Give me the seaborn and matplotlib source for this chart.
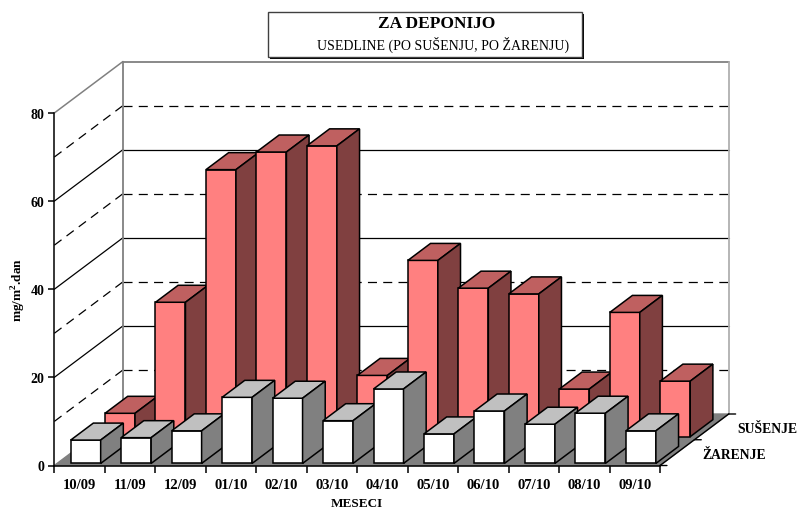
#!/usr/bin/env python
# coding: utf-8

import matplotlib
matplotlib.use("Agg")
import matplotlib.pyplot as plt
from matplotlib.patches import Polygon, Rectangle
import seaborn as sns

meseci = ["10/09", "11/09", "12/09", "01/10", "02/10", "03/10",
          "04/10", "05/10", "06/10", "07/10", "08/10", "09/10"]
susenje = [5.3, 30.5, 60.6, 64.6, 66.0, 13.9, 40.0, 33.7, 32.4, 10.8, 28.2, 12.6]
zarenje = [5.3, 5.85, 7.4, 15.0, 14.8, 9.7, 16.9, 6.7, 11.9, 8.9, 11.4, 7.4]
serije = ["ŽARENJE", "SUŠENJE"]
y_ticks = [0, 20, 40, 60, 80]

W, H = 798, 510

# Kosa projekcija: pomak zadnje ravnine u jedinicama osi
DX = 68.7 / 50.5
DY = 51.5 / (352.5 / 80)
BAR_DEPTH = 0.33
GRID = "#808080"

sns.set_style("ticks", rc={"text.color": "black", "axes.labelcolor": "black",
                           "xtick.color": "black", "ytick.color": "black",
                           "axes.edgecolor": "black"})
plt.rcParams["font.family"] = ["Liberation Serif", "DejaVu Serif"]
plt.rcParams["mathtext.fontset"] = "custom"
plt.rcParams["mathtext.bf"] = "Liberation Serif:bold"
plt.rcParams["lines.scale_dashes"] = False

fig = plt.figure(figsize=(W / 100, H / 100), dpi=100, facecolor="white")
ax = fig.add_axes([54.3 / W, (H - 466.5) / H, 605.7 / W, 352.5 / H])
ax.patch.set_visible(False)


def depth(x, y, z):
    return x + z * DX, y + z * DY


def wall_line(p0, p1, **kws):
    kws.setdefault("clip_on", False)
    ax.plot([p0[0], p1[0]], [p0[1], p1[1]], **kws)


def draw_series(values, z, shift, front, top, side, order):
    sns.barplot(x=meseci, y=values, color=front, saturation=1, width=0.594,
                errorbar=None, edgecolor="black", linewidth=1.1, ax=ax)
    for i, bar in enumerate(ax.containers[-1]):
        x0, base = depth(bar.get_x() + shift, 0, z)
        x1 = x0 + bar.get_width()
        bar.set_x(x0)
        bar.set_y(base)
        bar.set_clip_on(False)
        bar.set_zorder(order + i)
        y1 = base + bar.get_height()
        dx, dy = BAR_DEPTH * DX, BAR_DEPTH * DY
        ax.add_patch(Polygon([(x0, y1), (x1, y1), (x1 + dx, y1 + dy), (x0 + dx, y1 + dy)],
                             facecolor=top, edgecolor="black", linewidth=1.1,
                             clip_on=False, zorder=order + i))
        ax.add_patch(Polygon([(x1, base), (x1 + dx, base + dy), (x1 + dx, y1 + dy), (x1, y1)],
                             facecolor=side, edgecolor="black", linewidth=1.1,
                             clip_on=False, zorder=order + i))


# Stupci: najprije zadnji red, zatim prednji
draw_series(susenje, 0.56, 0.04, "#FF8080", "#BF6060", "#804040", 10)
draw_series(zarenje, 0.04, 0.067, "#FFFFFF", "#C0C0C0", "#808080", 40)

x_left, x_right = -0.5, len(meseci) - 0.5
ax.set_xlim(x_left, x_right)
ax.set_ylim(0, 80)

# Pod
ax.add_patch(Polygon([depth(x_left, 0, 0), depth(x_right, 0, 0),
                      depth(x_right, 0, 1), depth(x_left, 0, 1)],
                     facecolor=GRID, edgecolor=GRID, linewidth=1,
                     clip_on=False, zorder=3))
wall_line(depth(x_right, 0, 0), depth(x_right, 0, 1), color="black", lw=1, zorder=4)

# Mreza na zidovima
for v in range(10, 80, 10):
    style = dict(color="black", lw=0.9, zorder=2)
    if v % 20:
        style["dashes"] = (6.5, 4.5)
    wall_line(depth(x_left, v, 0), depth(x_left, v, 1), **style)
    wall_line(depth(x_left, v, 1), depth(x_right, v, 1), **style)

# Okvir zidova
wall_line(depth(x_left, 80, 0), depth(x_left, 80, 1), color=GRID, lw=1.1, zorder=2)
wall_line(depth(x_left, 80, 1), depth(x_right, 80, 1), color=GRID, lw=1.3, zorder=2)
wall_line(depth(x_left, 0, 1), depth(x_left, 80, 1), color=GRID, lw=1.3, zorder=2)
wall_line(depth(x_right, 0, 1), depth(x_right, 80, 1), color="#B0B0B0", lw=1.3, zorder=2)

# Osi
sns.despine(ax=ax)
for name in ["left", "bottom"]:
    ax.spines[name].set_linewidth(1.1)
    ax.spines[name].set_zorder(60)
ax.set_yticks(y_ticks)
ax.set_yticklabels([str(v) for v in y_ticks], fontsize=10, fontweight="bold")
ax.tick_params(axis="y", length=4.5, width=1.1, pad=2.5)
ax.set_xticks([x_left + i for i in range(len(meseci) + 1)])
ax.set_xticklabels([])
ax.set_xticks(range(len(meseci)), labels=meseci, minor=True, fontsize=10.5, fontweight="bold")
ax.tick_params(axis="x", which="major", length=5, width=1.1)
ax.tick_params(axis="x", which="minor", length=0, pad=9)
ax.set_xlabel("MESECI", fontsize=9.5, fontweight="bold", labelpad=4)
ax.set_ylabel(r"mg/m$^{\mathbf{2}}$.dan", fontsize=9.5, fontweight="bold", labelpad=2)

# Dubinska os
for z in [0, 0.5, 1]:
    px, py = depth(x_right, 0, z)
    ax.annotate("", xy=(px, py), xytext=(5, 0), textcoords="offset points",
                arrowprops=dict(arrowstyle="-", color="black", lw=1, shrinkA=0, shrinkB=0),
                annotation_clip=False)
for name, z in zip(serije, [0.25, 0.75]):
    px, py = depth(x_right, 0, z)
    ax.annotate(name, xy=(px, py), xytext=(18.5, -1.5), textcoords="offset points",
                fontsize=9.8, fontweight="bold", va="center", ha="left",
                annotation_clip=False)

# Naslov
fig.add_artist(Rectangle((270 / W, (H - 60) / H), 314 / W, 45 / H, transform=fig.transFigure,
                         facecolor="black", edgecolor="black", linewidth=0))
fig.add_artist(Rectangle((268 / W, (H - 57.5) / H), 314 / W, 45 / H, transform=fig.transFigure,
                         facecolor="white", edgecolor="#404040", linewidth=1))
fig.text(437 / W, (H - 24) / H, "ZA DEPONIJO", fontsize=12.5, fontweight="bold",
         ha="center", va="center")
fig.text(443.5 / W, (H - 44.5) / H, "USEDLINE (PO SUŠENJU, PO ŽARENJU)", fontsize=10,
         ha="center", va="center")

fig.savefig("out.png", dpi=100, facecolor="white")
